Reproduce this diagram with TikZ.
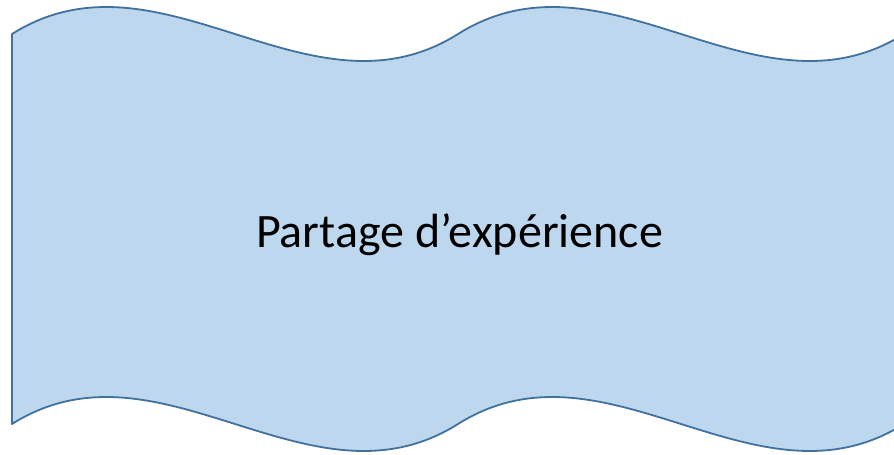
\documentclass[tikz,border=0pt]{standalone}
\usepackage{fontspec}
\setmainfont{Carlito}
\usepackage{tikz}
\usetikzlibrary{positioning}
\usepackage{xcolor}
\definecolor{wavefill}{HTML}{BDD7EE}
\definecolor{waveline}{HTML}{41719C}

\begin{document}
\begin{tikzpicture}[x=1pt,y=-1pt,
  wave/.style={fill=wavefill,draw=waveline,line width=1.8pt,line join=round}]
\useasboundingbox (0,0) rectangle (894,455);
\begin{scope}
\clip (0,0) rectangle (894,455);
% double wave, runs past the right border
\draw[wave] (12,34) .. controls (160.67,-59.5) and (309.33,127.5) .. (458,34)
  .. controls (606.67,-59.5) and (755.33,127.5) .. (904,34) -- (904,424)
  .. controls (755.33,517.5) and (606.67,330.5) .. (458,424)
  .. controls (309.33,517.5) and (160.67,330.5) .. (12,424) -- cycle;
\end{scope}
\node[font=\fontsize{48}{57}\selectfont,anchor=base,inner sep=0pt] (title) at (459.5,247) {Partage d’expérience};
\end{tikzpicture}
\end{document}
